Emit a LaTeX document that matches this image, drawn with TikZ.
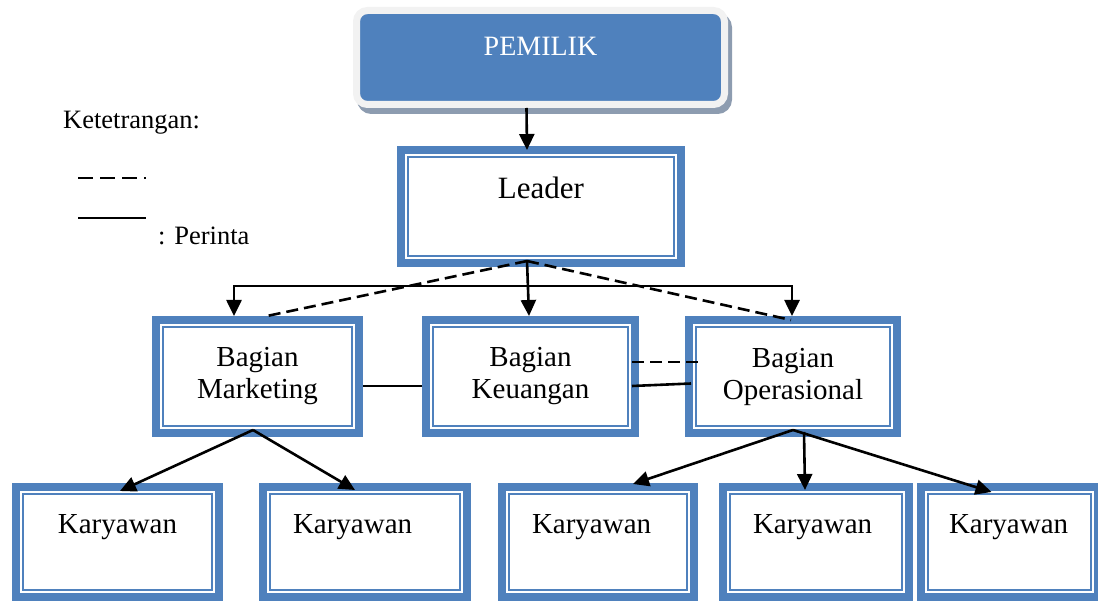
\documentclass[tikz,border=0pt]{standalone}
\usepackage{fontspec}
\setmainfont{Liberation Serif}
\usetikzlibrary{arrows.meta,shadows,calc}
\definecolor{bblue}{HTML}{4F81BD}
\definecolor{pemborder}{HTML}{F2F2F2}
\definecolor{pemshadow}{HTML}{8D9CB0}
\begin{document}
\begin{tikzpicture}[x=1pt,y=-1pt,
  >={Triangle[length=16pt,width=15pt]},
  bbox/.style={draw=bblue, line width=8pt, fill=white, outer sep=4pt,
    inner ysep=0pt, inner xsep=0pt, anchor=north west,
    font=\fontsize{29}{32}\selectfont},
  kbox/.style={bbox, minimum height=110pt, text height=46pt, text depth=64pt},
  kleft/.style={kbox, align=left, inner xsep=30pt},
  mbox/.style={bbox, minimum height=113pt, align=center},
  innerline/.style={draw=bblue, line width=2pt},
  conn/.style={line width=2.6pt, draw=black},
  dconn/.style={conn, dash pattern=on 12pt off 6pt},
  legtext/.style={inner sep=0pt, font=\fontsize{26.5}{30}\selectfont}
]
\useasboundingbox (0,0) rectangle (1098,601);

% PEMILIK
\node[draw=pemborder, line width=7pt, fill=bblue, rounded corners=11pt,
  outer sep=3.5pt, inner sep=0pt, anchor=north west,
  minimum width=368pt, minimum height=94pt, text height=45.5pt, text depth=48.5pt,
  text=white, font=\fontsize{28}{32}\selectfont,
  drop shadow={shadow xshift=4pt, shadow yshift=-6pt, fill=pemshadow,
    draw=pemshadow, line width=7pt, opacity=1}]
  (pem) at (353,7) {PEMILIK};

% Leader
\node[bbox, minimum width=280pt, minimum height=113pt, text height=49pt, text depth=64pt,
  font=\fontsize{31}{34}\selectfont]
  (lead) at (397,146) {Leader};

% Bagian
\node[mbox, minimum width=203pt] (mkt) at (152,316) {Bagian\\Marketing};
\node[mbox, minimum width=209pt] (keu) at (422,316) {Bagian\\Keuangan};
\node[mbox, minimum width=208pt] (opr) at (685,316) {Bagian\\Operasional};

% Karyawan
\node[kbox, minimum width=203pt] (k1) at (12,483) {Karyawan};
\node[kleft, text width=144pt] (k2) at (259,483) {Karyawan};
\node[kleft, text width=132pt] (k3) at (498,483) {Karyawan};
\node[kleft, text width=126pt] (k4) at (719,483) {Karyawan};
\node[kleft, inner xsep=28pt, text width=121pt] (k5) at (917,483) {Karyawan};

\foreach \n in {lead,mkt,keu,opr,k1,k2,k3,k4,k5}
  \draw[innerline] ([shift={(11pt,-11pt)}]\n.north west) rectangle ([shift={(-11pt,11pt)}]\n.south east);

% Legend
\node[legtext, anchor=base west] (ket) at (63,129) {Ketetrangan:};
\node[legtext, anchor=base west] (per) at (158,245) {: Perinta};
\draw[conn, dash pattern=on 15pt off 7pt] (78,178) -- (146,178);
\draw[conn] (78,218) -- (146,218);

% Connectors
\draw[conn,->] ([xshift=-14pt]pem.south) -- ([xshift=-14pt,yshift=-4pt]lead.north);
\coordinate (lb) at ([xshift=-14pt,yshift=6pt]lead.south);
\draw[conn,->] (lb) -- ([xshift=-1.5pt]keu.north);
\coordinate (h2) at ([xshift=-1pt,yshift=30pt]opr.north);
\draw[conn,<->] ([xshift=-23.5pt]mkt.north) |- (h2) -- ([xshift=-1pt]opr.north);
\draw[dconn] (lb) -- ([xshift=9.5pt]mkt.north);
\draw[dconn] (lb) -- ([xshift=-2pt,yshift=-4pt]opr.north);

\draw[conn] ([yshift=-9.5pt]mkt.east) -- ([yshift=-9.5pt]keu.west);
\draw[dconn] ([xshift=-7pt,yshift=14.5pt]keu.east) -- ([xshift=15pt,yshift=14.5pt]opr.west);
\draw[conn] ([xshift=-7pt,yshift=-9.5pt]keu.east) -- ([xshift=6pt,yshift=-7pt]opr.west);

\coordinate (mb) at ([xshift=-4.5pt,yshift=7pt]mkt.south);
\draw[conn,->] (mb) -- ([xshift=2.5pt,yshift=-8pt]k1.north);
\draw[conn,->] (mb) -- ([xshift=-10pt,yshift=-7pt]k2.north);
\coordinate (ob) at ([yshift=7pt]opr.south);
\draw[conn,->] (ob) -- ([xshift=35pt,yshift=-1pt]k3.north);
\draw[conn,->] ([xshift=11pt,yshift=5pt]opr.south) -- ([xshift=-11pt,yshift=-7pt]k4.north);
\draw[conn,->] (ob) -- ([xshift=-18pt,yshift=-9pt]k5.north);
\end{tikzpicture}
\end{document}
